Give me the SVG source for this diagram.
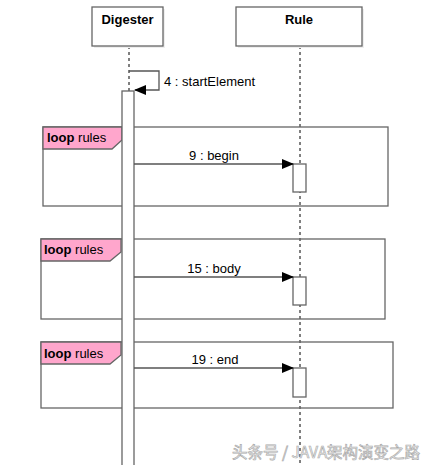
<svg xmlns="http://www.w3.org/2000/svg" width="430" height="465" viewBox="0 0 430 465">
<style>
.box{fill:#fff;stroke:#666;stroke-width:1.3}
.frame{fill:none;stroke:#666;stroke-width:1.3}
.tab{fill:#ffa6cc;stroke:#666;stroke-width:1.3}
.life{stroke:#000;stroke-width:1;stroke-dasharray:3,3;fill:none}
.msg{stroke:#555;stroke-width:1.3;fill:none}
.act{fill:#fff;stroke:#666;stroke-width:1.3}
.t{font-family:"Liberation Sans",Arial,sans-serif;font-size:13px;fill:#000}
.b{font-weight:bold}
.wm{font-family:"Noto Sans CJK SC","Liberation Sans",sans-serif;font-size:15.5px;fill:#fff;stroke:#aaa;stroke-width:0.7}
</style>
<defs>
<marker id="ah" markerWidth="12" markerHeight="10" refX="11" refY="5" orient="auto" markerUnits="userSpaceOnUse">
<path d="M0,0 L12,5 L0,10 Z" fill="#000"/>
</marker>
</defs>
<rect width="430" height="465" fill="#fff"/>
<g id="lifelines">
<line class="life" x1="129" y1="46" x2="129" y2="91"/>
<line class="life" x1="300" y1="46" x2="300" y2="465"/>
</g>
<g id="loop1">
<rect class="frame" x="43" y="127" width="345" height="79"/>
<path class="tab" d="M43,127 H122 V140 L112,149 H43 Z"/>
<text class="t" x="47" y="142"><tspan class="b">loop</tspan> rules</text>
</g>
<g id="loop2">
<rect class="frame" x="41" y="239" width="344" height="80"/>
<path class="tab" d="M41,239 H121 V252 L110,261 H41 Z"/>
<text class="t" x="44" y="254"><tspan class="b">loop</tspan> rules</text>
</g>
<g id="loop3">
<rect class="frame" x="41" y="342" width="352" height="66"/>
<path class="tab" d="M41,342 H121 V355 L110,364 H41 Z"/>
<text class="t" x="44" y="358"><tspan class="b">loop</tspan> rules</text>
</g>
<g id="digester">
<rect x="94" y="9" width="71" height="39" fill="#eee"/>
<rect class="box" x="92" y="7" width="71" height="39"/>
<text class="t b" x="127.5" y="24" text-anchor="middle">Digester</text>
</g>
<g id="rule">
<rect x="238" y="9" width="126" height="39" fill="#eee"/>
<rect class="box" x="236" y="7" width="126" height="39"/>
<text class="t b" x="299" y="24" text-anchor="middle">Rule</text>
</g>
<g id="activations">
<rect class="act" x="122" y="91" width="12" height="380"/>
<rect class="act" x="293" y="164" width="13" height="28"/>
<rect class="act" x="293" y="277" width="13" height="28"/>
<rect class="act" x="293" y="368" width="13" height="29"/>
</g>
<g id="connectors">
<path class="msg" d="M129,71 H159 V90 H135" marker-end="url(#ah)"/>
<text class="t" x="164" y="86">4 : startElement</text>
<line class="msg" x1="134" y1="164" x2="293" y2="164" marker-end="url(#ah)"/>
<text class="t" x="214" y="160" text-anchor="middle">9 : begin</text>
<line class="msg" x1="134" y1="277" x2="293" y2="277" marker-end="url(#ah)"/>
<text class="t" x="214" y="273" text-anchor="middle">15 : body</text>
<line class="msg" x1="134" y1="368" x2="293" y2="368" marker-end="url(#ah)"/>
<text class="t" x="215" y="364" text-anchor="middle">19 : end</text>
</g>
<text class="wm" x="232" y="458">头条号 / JAVA架构演变之路</text>
</svg>
